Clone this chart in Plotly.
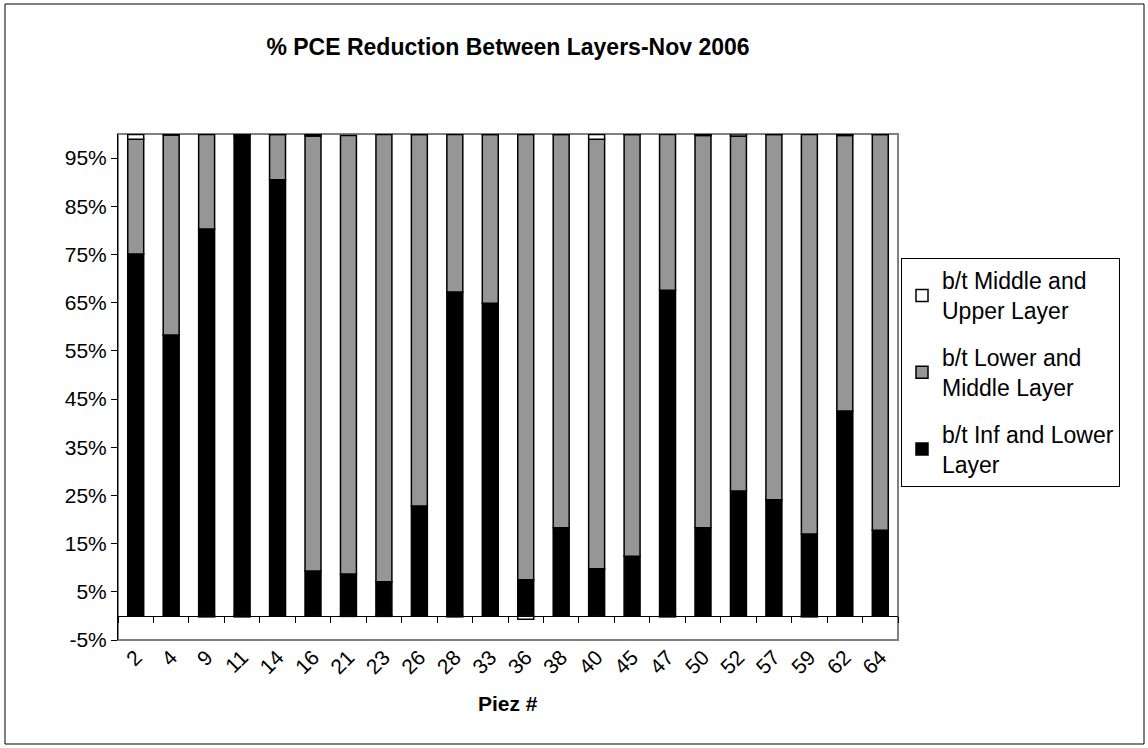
import plotly.graph_objects as go

categories = ["2", "4", "9", "11", "14", "16", "21", "23", "26", "28", "33",
              "36", "38", "40", "45", "47", "50", "52", "57", "59", "62", "64"]
inf_lower = [75.1, 58.3, 80.3, 99.6, 90.5, 9.3, 8.7, 7.1, 22.8, 67.2, 64.9,
             7.5, 18.3, 9.8, 12.4, 67.6, 18.3, 25.9, 24.1, 17.0, 42.5, 17.8]
lower_middle = [23.8, 41.5, 19.6, 0.3, 9.4, 90.3, 91.0, 92.8, 77.1, 32.7, 35.0,
                92.4, 81.6, 89.1, 87.5, 32.3, 81.4, 73.7, 75.8, 82.9, 57.2, 82.1]
middle_upper = [1.0, 0.2, -0.2, -0.2, 0.1, 0.3, -0.1, -0.1, 0.1, -0.2, 0.1,
                -0.7, 0.1, 1.0, 0.1, -0.2, 0.3, 0.4, 0.1, -0.2, 0.3, 0.1]
ytick_vals = [-5, 5, 15, 25, 35, 45, 55, 65, 75, 85, 95]
ytick_text = ["-5%", "5%", "15%", "25%", "35%", "45%", "55%", "65%", "75%", "85%", "95%"]

FONT = "Arial, Liberation Sans, sans-serif"
W, H = 1148, 748
L, R, T, B = 118, 250, 134, 108
pw, ph = W - L - R, H - T - B

def px_x(px):
    return (px - L) / pw

def px_y(py):
    return (H - B - py) / ph

fig = go.Figure()
series = [
    ("b/t Inf and Lower<br>Layer", inf_lower, "#000000", "g1", 3),
    ("b/t Lower and<br>Middle Layer", lower_middle, "#969696", "g2", 2),
    ("b/t Middle and<br>Upper Layer", middle_upper, "#FFFFFF", "g3", 1),
]
for name, vals, col, grp, rank in series:
    fig.add_trace(go.Bar(
        x=categories, y=vals, name=name, legendgroup=grp, legendrank=rank,
        marker=dict(color=col, line=dict(color="#000000", width=1.5)),
    ))

# invisible helper trace for the category axis drawn at zero
fig.add_trace(go.Scatter(
    x=categories, y=[0] * len(categories), xaxis="x2", mode="markers",
    marker=dict(opacity=0), showlegend=False, hoverinfo="skip",
))

fig.update_layout(
    width=W, height=H,
    margin=dict(l=L, r=R, t=T, b=B),
    paper_bgcolor="white", plot_bgcolor="white",
    barmode="relative", bargap=0.55,
    font=dict(family=FONT, size=21, color="black"),
    title=dict(text="<b>% PCE Reduction Between Layers-Nov 2006</b>",
               x=0.5, xref="paper", xanchor="center",
               y=1 - 47 / H, yref="container", yanchor="middle",
               font=dict(family=FONT, size=23, color="black")),
    xaxis=dict(type="category", range=[-0.5, len(categories) - 0.5],
               tickangle=-45, ticks="", showline=False, showgrid=False,
               tickfont=dict(family=FONT, size=21)),
    xaxis2=dict(type="category", overlaying="x", anchor="free",
                position=5 / 105, side="bottom",
                range=[-0.5, len(categories) - 0.5],
                showline=True, linecolor="black", linewidth=1,
                ticks="outside", ticklen=6, tickcolor="black",
                tickson="boundaries", showticklabels=False, showgrid=False),
    yaxis=dict(range=[-5, 100], tickvals=ytick_vals, ticktext=ytick_text,
               showgrid=False, zeroline=False, showline=True,
               linecolor="black", linewidth=1, ticks="outside", ticklen=6,
               tickcolor="black", tickfont=dict(family=FONT, size=21)),
    legend=dict(x=px_x(901), y=px_y(258), xanchor="left", yanchor="top",
                traceorder="grouped", tracegroupgap=14,
                bordercolor="black", borderwidth=1, bgcolor="white",
                font=dict(family=FONT, size=23)),
    showlegend=True,
)

fig.add_annotation(text="<b>Piez #</b>", xref="paper", yref="paper",
                   x=0.5, y=px_y(703), xanchor="center", yanchor="middle",
                   showarrow=False, font=dict(family=FONT, size=21))

# plot area border
fig.add_shape(type="rect", xref="paper", yref="paper", x0=0, x1=1, y0=0, y1=1,
              line=dict(color="#808080", width=2), layer="below")
# outer chart border
fig.add_shape(type="rect", xref="paper", yref="paper",
              x0=px_x(5), x1=px_x(1144), y0=px_y(744), y1=px_y(4),
              line=dict(color="black", width=1), layer="above")

fig.write_html("out.html")
